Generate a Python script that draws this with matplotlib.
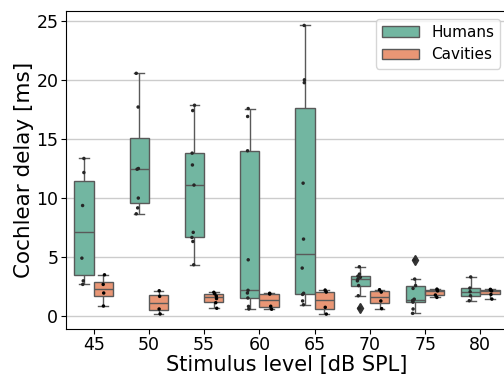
import numpy as np
import pandas as pd
import matplotlib
matplotlib.use("Agg")
import matplotlib.pyplot as plt
import seaborn as sns

# valeurs (ms)
niveaux = [45, 50, 55, 60, 65, 70, 75, 80]

humains = {
    45: [2.7, 3.0, 4.92, 9.37, 12.16, 13.35],
    50: [8.67, 9.17, 10.0, 12.44, 12.5, 17.7, 20.55],
    55: [4.36, 6.33, 6.67, 7.1, 11.1, 12.8, 13.8, 17.4, 17.85],
    60: [0.62, 0.84, 1.55, 1.97, 2.2, 4.78, 14.0, 16.9, 17.57],
    65: [0.98, 1.3, 1.85, 1.95, 4.08, 6.53, 11.26, 19.76, 20.0, 24.6],
    70: [0.68, 1.74, 2.6, 3.0, 3.15, 3.3, 3.4, 3.57, 4.19],
    75: [0.25, 0.62, 1.2, 1.3, 1.35, 1.45, 2.36, 2.6, 3.15, 4.78],
    80: [1.32, 1.74, 2.08, 2.39, 3.33],
}

cavites = {
    45: [0.87, 1.97, 2.7, 3.51],
    50: [0.2, 0.62, 1.69, 2.16],
    55: [0.68, 1.15, 1.5, 1.7, 1.9, 2.03],
    60: [0.6, 0.85, 1.88, 1.95],
    65: [0.19, 0.76, 2.05, 2.22],
    70: [0.65, 1.3, 2.05, 2.25],
    75: [1.6, 1.8, 2.15, 2.22, 2.3],
    80: [1.46, 1.85, 2.15, 2.22, 2.28],
}

lignes = []
for niv in niveaux:
    for v in humains[niv]:
        lignes.append((niv, v, "Humans"))
    for v in cavites[niv]:
        lignes.append((niv, v, "Cavities"))
df = pd.DataFrame(lignes, columns=["level", "delay", "group"])

np.random.seed(3)

fig = plt.figure(figsize=(5.04, 3.75), dpi=100)
ax = fig.add_axes([66 / 504, 46.5 / 375, 442 / 504, 317.5 / 375])

sns.boxplot(data=df, x="level", y="delay", hue="group", palette="Set2",
            width=0.7, ax=ax, linewidth=1,
            flierprops=dict(marker="d", markersize=5, markerfacecolor="#333333",
                            markeredgecolor="#333333"))
sns.stripplot(data=df, x="level", y="delay", hue="group", dodge=True,
              color="black", size=2.5, jitter=0.06, ax=ax, legend=False)

ax.yaxis.grid(True, color="#cccccc", linewidth=1)
ax.set_axisbelow(True)
ax.set_xlabel("Stimulus level [dB SPL]", fontsize=15, labelpad=0.5)
ax.set_ylabel("Cochlear delay [ms]", fontsize=15.5, labelpad=2)
ax.tick_params(labelsize=12.5, pad=2)

h, l = ax.get_legend_handles_labels()
ax.legend(h[:2], l[:2], loc="upper right", fontsize=11, title=None,
          handlelength=2.4)

fig.savefig("out.png", dpi=100)
